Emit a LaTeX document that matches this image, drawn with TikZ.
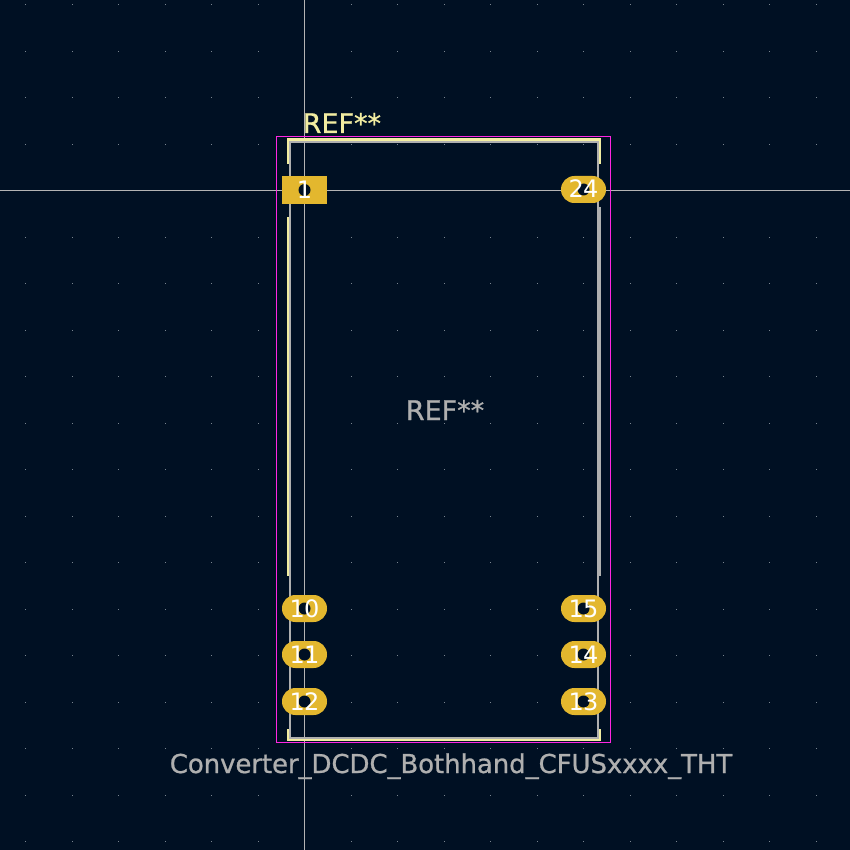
\documentclass[tikz,border=0pt]{standalone}
\usepackage{fontspec}
\setmainfont{DejaVu Sans}
\newfontfamily\reffont[FakeBold=0.8]{DejaVu Sans}
\newfontfamily\footfont[FakeBold=0.8,LetterSpace=-0.3]{DejaVu Sans}
\newfontfamily\numfont[LetterSpace=-3]{DejaVu Sans}
\definecolor{boardbg}{HTML}{001023}
\definecolor{crossline}{HTML}{B4B4B4}
\definecolor{griddot}{HTML}{7A8590}
\definecolor{courtline}{HTML}{FF26E2}
\definecolor{silkline}{HTML}{F2EDA1}
\definecolor{fabline}{HTML}{AFAFAF}
\definecolor{padfill}{HTML}{E3B72E}
\tikzset{
	pinrect/.style={rectangle,fill=padfill,minimum width=45pt,minimum height=28pt,inner sep=0pt},
	pinpill/.style={rectangle,rounded corners=13.4pt,fill=padfill,minimum width=45pt,minimum height=27pt,inner sep=0pt},
	pinhole/.style={circle,fill=boardbg,minimum size=12pt,inner sep=0pt},
	pinnum/.style={text=white,font=\numfont\fontsize{24}{24}\selectfont,inner sep=0pt,anchor=base},
	silk/.style={silkline,line width=2.2pt},
	fab/.style={fabline,line width=2pt},
	crossl/.style={crossline,line width=1pt}
}
\begin{document}
\begin{tikzpicture}[x=1pt,y=-1pt]
	\useasboundingbox (0,0) rectangle (850,850);
	\fill[boardbg] (0,0) rectangle (850,850);
	% grid dots
	\foreach \i in {0,...,18} {
		\foreach \j in {0,...,18} {
			\fill[griddot] ({ceil(25+46.5*\i)},{ceil(4+46.5*\j)}) rectangle ++(1,1);
		}
	}
	% crosshair
	\coordinate (crosstop) at (304.5,0);
	\coordinate (crossbot) at (304.5,850);
	\coordinate (crossleft) at (0,190.5);
	\coordinate (crossright) at (850,190.5);
	\draw[crossl] (crosstop) -- (crossbot);
	\draw[crossl] (crossleft) -- (crossright);
	% fab outline
	\draw[fab] (290,142) rectangle (598,738);
	% courtyard
	\draw[courtline,line width=1pt] (276.8,136.5) rectangle (610.5,742.5);
	% silkscreen
	\draw[silk] (288,164) -- (288,139.5) -- (600,139.5) -- (600,164);
	\draw[silk] (288,217) -- (288,576);
	\draw[fabline,line width=3.4pt] (599,207) -- (599,576);
	\draw[silk] (288,729) -- (288,740) -- (600,740) -- (600,729);
	% pads
	\foreach \nam/\num/\px/\py/\sty in {p1/1/304.5/190/pinrect,p10/10/304.5/608.5/pinpill,p11/11/304.5/654.5/pinpill,p12/12/304.5/701.5/pinpill,p24/24/583.5/189.5/pinpill,p15/15/583.5/608.5/pinpill,p14/14/583.5/654.5/pinpill,p13/13/583.5/701.5/pinpill} {
		\node (\nam) [\sty] at (\px,\py) {};
		\node (\nam h) [pinhole] at (\nam) {};
		\node (\nam t) [pinnum] at ([yshift=-8.5pt]\nam) {\num};
	}
	% texts
	\node (refsilk) [text=silkline,font=\reffont\fontsize{27}{27}\selectfont,inner sep=0pt,anchor=base west] at (302.5,133) {REF**};
	\node (reffab) [text=fabline,font=\reffont\fontsize{27}{27}\selectfont,inner sep=0pt,anchor=base] at (445,420) {REF**};
	\node (footname) [text=fabline,font=\footfont\fontsize{26}{26}\selectfont,inner sep=0pt,anchor=base] at (451,773) {Converter\_DCDC\_Bothhand\_CFUSxxxx\_THT};
\end{tikzpicture}
\end{document}
